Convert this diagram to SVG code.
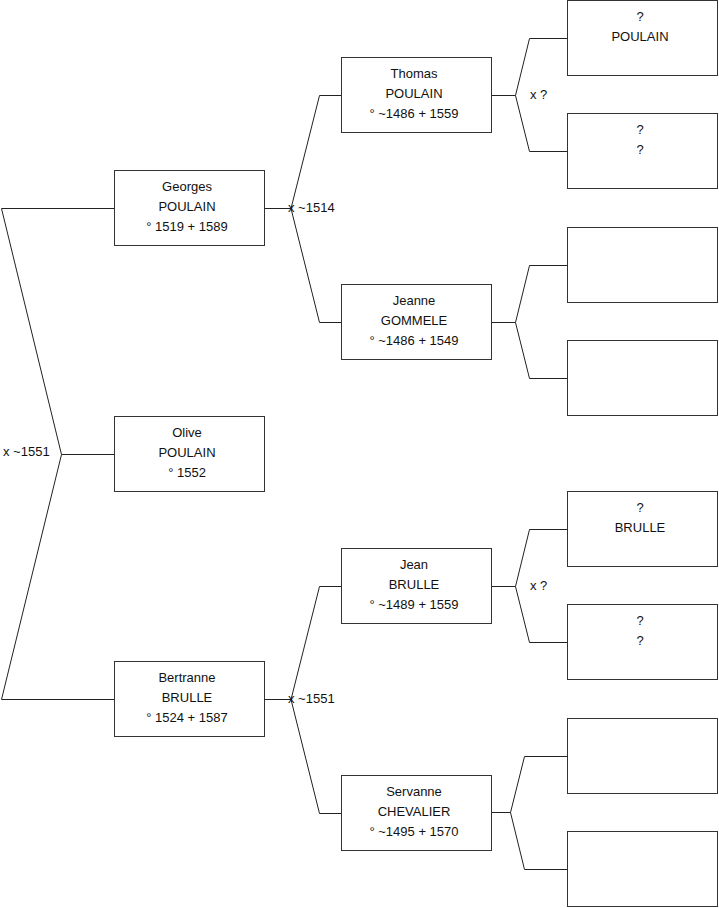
<svg xmlns="http://www.w3.org/2000/svg" width="719" height="908" viewBox="0 0 719 908">
<style>
.box{fill:#fff;stroke:#333;stroke-width:1}
.ln{fill:none;stroke:#222;stroke-width:1}
text{font-family:"Liberation Sans",Arial,sans-serif;font-size:13px;fill:#111}
.c{text-anchor:middle}
</style>
<rect x="0" y="0" width="719" height="908" fill="#fff"/>
<g id="connectors">
<path class="ln" d="M114,208.5 H1.5 L61.5,454.5 L1.5,699.5 H114 M61.5,454.5 H114"/>
<path class="ln" d="M265,208.5 H291 L319.5,95.5 H341 M291,208.5 L319.5,322.5 H341"/>
<path class="ln" d="M265,699.5 H291 L319.5,586.5 H341 M291,699.5 L319.5,813.5 H341"/>
<path class="ln" d="M492,95.5 H515.5 L529.5,38.5 H567 M515.5,95.5 L529.5,151.5 H567"/>
<path class="ln" d="M492,322.5 H515.5 L529.5,265.5 H567 M515.5,322.5 L529.5,378.5 H567"/>
<path class="ln" d="M492,586.5 H515.5 L529.5,529.5 H567 M515.5,586.5 L529.5,642.5 H567"/>
<path class="ln" d="M492,812.5 H510.5 L524.5,756.5 H567 M510.5,812.5 L524.5,869.5 H567"/>
<text x="3" y="456">x ~1551</text>
<text x="288" y="212">x ~1514</text>
<text x="288" y="703">x ~1551</text>
<text x="530" y="99">x ?</text>
<text x="530" y="590">x ?</text>
</g>
<g id="georges"><rect class="box" x="114.5" y="170.5" width="150" height="75"/><text class="c" x="187" y="191">Georges</text><text class="c" x="187" y="211">POULAIN</text><text class="c" x="187" y="231">° 1519 + 1589</text></g>
<g id="olive"><rect class="box" x="114.5" y="416.5" width="150" height="75"/><text class="c" x="187" y="437">Olive</text><text class="c" x="187" y="457">POULAIN</text><text class="c" x="187" y="477">° 1552</text></g>
<g id="bertranne"><rect class="box" x="114.5" y="661.5" width="150" height="75"/><text class="c" x="187" y="682">Bertranne</text><text class="c" x="187" y="702">BRULLE</text><text class="c" x="187" y="722">° 1524 + 1587</text></g>
<g id="thomas"><rect class="box" x="341.5" y="57.5" width="150" height="75"/><text class="c" x="414" y="78">Thomas</text><text class="c" x="414" y="98">POULAIN</text><text class="c" x="414" y="118">° ~1486 + 1559</text></g>
<g id="jeanne"><rect class="box" x="341.5" y="284.5" width="150" height="75"/><text class="c" x="414" y="305">Jeanne</text><text class="c" x="414" y="325">GOMMELE</text><text class="c" x="414" y="345">° ~1486 + 1549</text></g>
<g id="jean"><rect class="box" x="341.5" y="548.5" width="150" height="75"/><text class="c" x="414" y="569">Jean</text><text class="c" x="414" y="589">BRULLE</text><text class="c" x="414" y="609">° ~1489 + 1559</text></g>
<g id="servanne"><rect class="box" x="341.5" y="775.5" width="150" height="75"/><text class="c" x="414" y="796">Servanne</text><text class="c" x="414" y="816">CHEVALIER</text><text class="c" x="414" y="836">° ~1495 + 1570</text></g>
<g id="gp1"><rect class="box" x="567.5" y="0.5" width="150" height="75"/><text class="c" x="640" y="21">?</text><text class="c" x="640" y="41">POULAIN</text></g>
<g id="gp2"><rect class="box" x="567.5" y="113.5" width="150" height="75"/><text class="c" x="640" y="134">?</text><text class="c" x="640" y="154">?</text></g>
<g id="gp3"><rect class="box" x="567.5" y="227.5" width="150" height="75"/></g>
<g id="gp4"><rect class="box" x="567.5" y="340.5" width="150" height="75"/></g>
<g id="gp5"><rect class="box" x="567.5" y="491.5" width="150" height="75"/><text class="c" x="640" y="512">?</text><text class="c" x="640" y="532">BRULLE</text></g>
<g id="gp6"><rect class="box" x="567.5" y="604.5" width="150" height="75"/><text class="c" x="640" y="625">?</text><text class="c" x="640" y="645">?</text></g>
<g id="gp7"><rect class="box" x="567.5" y="718.5" width="150" height="75"/></g>
<g id="gp8"><rect class="box" x="567.5" y="831.5" width="150" height="75"/></g>
</svg>
